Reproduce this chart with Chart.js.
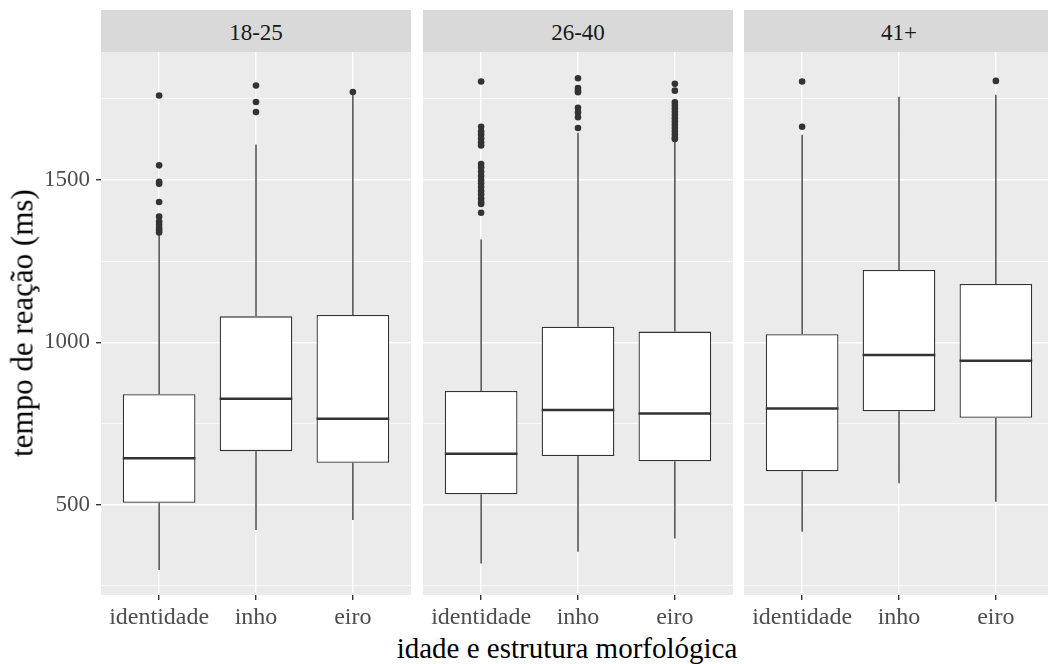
<!DOCTYPE html>
<html>
<head>
<meta charset="utf-8">
<script src="https://cdn.jsdelivr.net/npm/chart.js@4/dist/chart.umd.min.js"></script>
<style>
  html, body { margin: 0; padding: 0; }
  body { width: 1048px; height: 664px; overflow: hidden; background: #ffffff; position: relative; font-family: "Liberation Serif", "Times New Roman", serif; }
  .strip { position: absolute; top: 10px; height: 42px; width: 310px; background: #D9D9D9; color: #1A1A1A; font-size: 23px; line-height: 42px; text-align: center; }
  .strip span { position: relative; top: 2px; }
  canvas.cv { position: absolute; top: 52px; }
  #ytitle { position: absolute; left: 22px; top: 323px; transform: translate(-50%, -50%) rotate(-90deg); white-space: nowrap; font-size: 31px; line-height: 31px; color: #000; }
  #xtitle { position: absolute; left: 567px; top: 634px; transform: translateX(-50%); white-space: nowrap; font-size: 29px; line-height: 29px; color: #000; }
</style>
</head>
<body>
<div class="strip" style="left:101px"><span id="s0"></span></div>
<div class="strip" style="left:423px"><span id="s1"></span></div>
<div class="strip" style="left:744px"><span id="s2"></span></div>
<canvas id="c0" class="cv" width="411" height="580" style="left:0px"></canvas>
<canvas id="c1" class="cv" width="310" height="580" style="left:423px"></canvas>
<canvas id="c2" class="cv" width="310" height="580" style="left:744px"></canvas>
<div id="ytitle">tempo de reação (ms)</div>
<div id="xtitle">idade e estrutura morfológica</div>
<script>
// ---- data ----
const panels = ['18-25', '26-40', '41+'];
const categories = ['identidade', 'inho', 'eiro'];
const lowWhisker  = [[299, 422, 453], [319, 355, 396], [417, 566, 509]];
const q1          = [[506, 665, 629], [532, 650, 634], [603, 788, 768]];
const median      = [[643, 826, 765], [657, 792, 781], [796, 961, 943]];
const q3          = [[840, 1080, 1084], [850, 1048, 1033], [1025, 1223, 1180]];
const highWhisker = [[1332, 1609, 1765], [1317, 1645, 1620], [1639, 1756, 1762]];
const outliers18 = [
  [1760, 1545, 1494, 1488, 1432, 1387, 1372, 1362, 1352, 1345, 1338],
  [1791, 1740, 1709],
  [1771]
];
const outliers26 = [
  [1803, 1664, 1650, 1640, 1628, 1616, 1606, 1549, 1538, 1525, 1512, 1500, 1490, 1478, 1466, 1455, 1443, 1432, 1426, 1399],
  [1813, 1783, 1775, 1770, 1722, 1708, 1693, 1660],
  [1796, 1775, 1739, 1730, 1720, 1710, 1700, 1690, 1680, 1670, 1660, 1650, 1640, 1630, 1626]
];
const outliers41 = [
  [1803, 1664],
  [],
  [1805]
];
const outliers = [outliers18, outliers26, outliers41];
const yMajorTicks = [500, 1000, 1500];
const yMinorTicks = [250, 750, 1250, 1750];
const yMin = 222, yMax = 1894;

// ---- drawing ----
const DARK = '#333333';
const bgPlugin = {
  id: 'panelBg',
  beforeDraw(chart) {
    const { ctx, chartArea: a } = chart;
    ctx.save();
    ctx.fillStyle = '#EBEBEB';
    ctx.fillRect(a.left, a.top, a.right - a.left, a.bottom - a.top);
    ctx.restore();
  }
};

function makePanel(p, canvasId, showY) {
  const boxData = categories.map((c, i) => ({ x: i, y: [q1[p][i], q3[p][i]] }));
  const whiskerData = [];
  const medianData = [];
  categories.forEach((c, i) => {
    whiskerData.push({ x: i, y: lowWhisker[p][i] }, { x: i, y: q1[p][i] }, { x: i, y: null });
    whiskerData.push({ x: i, y: q3[p][i] }, { x: i, y: highWhisker[p][i] }, { x: i, y: null });
    medianData.push({ x: i - 0.375, y: median[p][i] }, { x: i + 0.375, y: median[p][i] }, { x: i, y: null });
  });
  const outlierData = [];
  outliers[p].forEach((arr, i) => arr.forEach(v => outlierData.push({ x: i, y: v })));

  const allY = yMinorTicks.concat(yMajorTicks).sort((a, b) => a - b);
  const isMajor = v => yMajorTicks.includes(v);

  new Chart(document.getElementById(canvasId), {
    type: 'bar',
    data: {
      datasets: [
        { type: 'scatter', data: outlierData, pointRadius: 3.3, pointHoverRadius: 3.3, backgroundColor: DARK, borderWidth: 0, order: 0 },
        { type: 'line', data: medianData, borderColor: DARK, borderWidth: 2.5, pointRadius: 0, spanGaps: false, order: 1 },
        { type: 'bar', data: boxData, backgroundColor: '#FFFFFF', borderColor: DARK, borderWidth: 1.3, borderSkipped: false, barPercentage: 0.75, categoryPercentage: 1, order: 2 },
        { type: 'line', data: whiskerData, borderColor: DARK, borderWidth: 1.3, pointRadius: 0, spanGaps: false, order: 3 }
      ]
    },
    options: {
      responsive: false,
      animation: false,
      events: [],
      layout: { padding: 0, autoPadding: false },
      plugins: { legend: { display: false }, tooltip: { enabled: false }, title: { display: false } },
      scales: {
        x: {
          type: 'linear', min: -0.6, max: 2.6, offset: false,
          afterBuildTicks: s => { s.ticks = categories.map((c, i) => ({ value: i })); },
          afterFit: s => { s.height = 37; s.paddingLeft = 0; s.paddingRight = 0; },
          ticks: { autoSkip: false, maxRotation: 0, minRotation: 0, padding: 3, color: '#4D4D4D',
                   font: { family: 'Liberation Serif', size: 24 },
                   callback: v => categories[v] },
          grid: { offset: false, color: '#FFFFFF', lineWidth: 1.4, tickColor: DARK, tickLength: 5, drawTicks: true },
          border: { display: false }
        },
        y: {
          type: 'linear', min: yMin, max: yMax,
          afterBuildTicks: s => { s.ticks = allY.map(v => ({ value: v })); },
          afterFit: s => { s.width = showY ? 101 : 0; s.paddingTop = 0; s.paddingBottom = 0; },
          ticks: { display: showY, autoSkip: false, padding: 6, color: '#4D4D4D',
                   font: { family: 'Liberation Serif', size: 23 },
                   callback: v => isMajor(v) ? String(v) : '' },
          grid: { color: '#FFFFFF', lineWidth: c => isMajor(c.tick.value) ? 1.4 : 0.7,
                  tickColor: c => isMajor(c.tick.value) ? DARK : 'rgba(0,0,0,0)',
                  tickLength: 5, drawTicks: showY },
          border: { display: false }
        }
      }
    },
    plugins: [bgPlugin]
  });
}

panels.forEach((name, p) => { document.getElementById('s' + p).textContent = name; });
makePanel(0, 'c0', true);
makePanel(1, 'c1', false);
makePanel(2, 'c2', false);
</script>
</body>
</html>
